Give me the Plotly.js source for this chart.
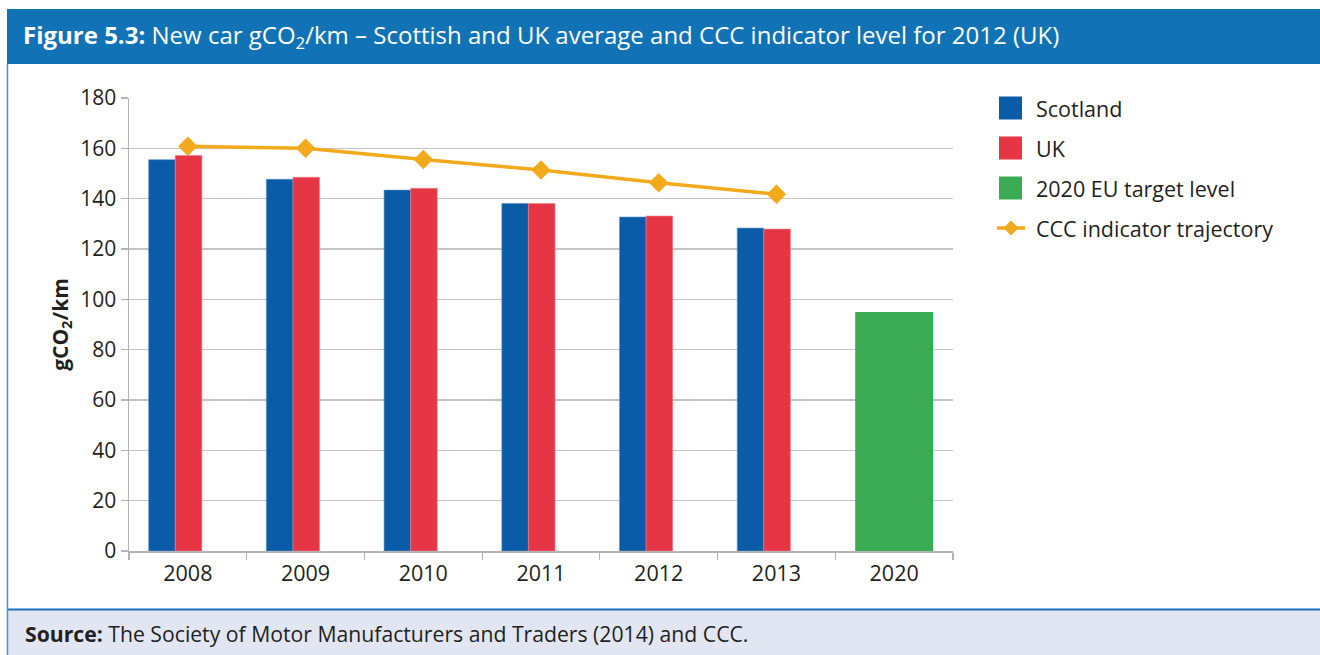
<!DOCTYPE html>
<html>
<head>
<meta charset="utf-8">
<script src="https://cdn.plot.ly/plotly-3.0.1.min.js"></script>
<style>
  html, body { margin: 0; padding: 0; background: #ffffff; }
  #chart { width: 1320px; height: 655px; }
</style>
</head>
<body>
<div id="chart"></div>
<script>
// ---- Data ----
const years = ['2008', '2009', '2010', '2011', '2012', '2013', '2020'];
const barYears = ['2008', '2009', '2010', '2011', '2012', '2013'];
const scotland = [155.5, 147.7, 143.4, 138.1, 132.7, 128.3];
const uk = [157.2, 148.5, 144.1, 138.1, 133.1, 127.9];
const targetYears = ['2020'];
const eutarget = [95];
const cccYears = ['2008', '2009', '2010', '2011', '2012', '2013'];
const ccc = [160.8, 160.0, 155.6, 151.4, 146.3, 141.8];
const seriesNames = ['Scotland', 'UK', '2020 EU target level', 'CCC indicator trajectory'];
const yTicks = [0, 20, 40, 60, 80, 100, 120, 140, 160, 180];

const titleText = '<b>Figure 5.3:</b> New car gCO<sub>2</sub>/km \u2013 Scottish and UK average and CCC indicator level for 2012 (UK)';
const sourceText = '<b>Source:</b> The Society of Motor Manufacturers and Traders (2014) and CCC.';
const yTitle = '<b>gCO<sub>2</sub>/km</b>';

// ---- Styling ----
const colors = ['#0B5CA8', '#E63646', '#3CAB56', '#F2A91C'];
const W = 1320, H = 655;
const M = { l: 129, r: 367, t: 98, b: 104 };
const PW = W - M.l - M.r, PH = H - M.t - M.b;
const px = v => (v - M.l) / PW;          // pixel x -> paper x
const py = v => (H - M.b - v) / PH;      // pixel y -> paper y
const textColor = '#231F20';
const font = 'Open Sans, Noto Sans, sans-serif';

const traces = [
  { type: 'bar', name: seriesNames[0], x: barYears, y: scotland,
    marker: { color: colors[0], line: { color: '#5B8FCB', width: 0.6 } },
    width: 0.226, offset: -0.333, showlegend: false, hoverinfo: 'x+y+name' },
  { type: 'bar', name: seriesNames[1], x: barYears, y: uk,
    marker: { color: colors[1], line: { color: '#F07F8A', width: 0.6 } },
    width: 0.226, offset: -0.107, showlegend: false, hoverinfo: 'x+y+name' },
  { type: 'bar', name: seriesNames[2], x: targetYears, y: eutarget,
    marker: { color: colors[2] },
    width: 0.663, offset: -0.331, showlegend: false, hoverinfo: 'x+y+name' },
  { type: 'scatter', mode: 'lines+markers', name: seriesNames[3], x: cccYears, y: ccc,
    line: { color: colors[3], width: 3.5 },
    marker: { symbol: 'diamond', size: 15, color: colors[3] },
    showlegend: false, hoverinfo: 'x+y+name' }
];

// ---- Frame: header band, footer band, left border ----
const shapes = [
  { type: 'rect', xref: 'paper', yref: 'paper', x0: px(7), x1: px(1320), y0: py(64), y1: py(9),
    fillcolor: '#1173B5', line: { width: 0 }, layer: 'below' },
  { type: 'rect', xref: 'paper', yref: 'paper', x0: px(7), x1: px(1320), y0: py(655), y1: py(610),
    fillcolor: '#E2E6F2', line: { width: 0 }, layer: 'below' },
  { type: 'line', xref: 'paper', yref: 'paper', x0: px(7), x1: px(1320), y0: py(609.5), y1: py(609.5),
    line: { color: '#1A72BA', width: 2 } },
  { type: 'line', xref: 'paper', yref: 'paper', x0: px(7.5), x1: px(7.5), y0: py(64), y1: py(655),
    line: { color: '#4A90D0', width: 1.5 } }
];

// ---- Legend (drawn to match the reference's large swatches) ----
const legendY = [108, 148, 188, 228];
const annotations = [];
for (let i = 0; i < 3; i++) {
  shapes.push({ type: 'rect', xref: 'paper', yref: 'paper',
    x0: px(999), x1: px(1022), y0: py(legendY[i] + 11.5), y1: py(legendY[i] - 11.5),
    fillcolor: colors[i], line: { width: 0 } });
}
shapes.push({ type: 'line', xref: 'paper', yref: 'paper',
  x0: px(997), x1: px(1025), y0: py(legendY[3]), y1: py(legendY[3]),
  line: { color: colors[3], width: 3.5 } });
{
  const cx = 1011, cy = legendY[3], r = 7.5;
  const p = (x, y) => px(x) + ',' + py(y);
  shapes.push({ type: 'path', xref: 'paper', yref: 'paper',
    path: 'M' + p(cx, cy - r) + ' L' + p(cx + r, cy) + ' L' + p(cx, cy + r) + ' L' + p(cx - r, cy) + ' Z',
    fillcolor: colors[3], line: { width: 0 } });
}
for (let i = 0; i < 4; i++) {
  annotations.push({ xref: 'paper', yref: 'paper', x: px(1034), y: py(legendY[i]),
    xanchor: 'left', yanchor: 'middle', showarrow: false, text: seriesNames[i],
    font: { family: font, size: 21.5, color: textColor } });
}
annotations.push({ xref: 'paper', yref: 'paper', x: px(23), y: py(633), xanchor: 'left', yanchor: 'middle',
  showarrow: false, text: sourceText, font: { family: font, size: 21.2, color: textColor } });

const layout = {
  width: W, height: H,
  margin: M,
  paper_bgcolor: '#ffffff', plot_bgcolor: '#ffffff',
  font: { family: font, color: textColor, size: 21 },
  barmode: 'overlay',
  showlegend: false,
  title: { text: titleText, xref: 'container', yref: 'container', x: 23 / W, xanchor: 'left',
    y: 1 - 36 / H, yanchor: 'middle', font: { family: font, size: 24, color: '#ffffff' } },
  xaxis: {
    type: 'category', categoryorder: 'array', categoryarray: years,
    range: [-0.5, years.length - 0.5],
    showline: true, linecolor: '#B4B4B4', linewidth: 1.5,
    ticks: 'outside', tickson: 'boundaries', ticklen: 7, tickcolor: '#B4B4B4', tickwidth: 1.2,
    ticklabelstandoff: 3,
    tickfont: { size: 21.5, color: textColor }, showgrid: false, fixedrange: true
  },
  yaxis: {
    range: [0, 180], tickvals: yTicks, ticktext: yTicks.map(String),
    showline: true, linecolor: '#B4B4B4', linewidth: 1.5,
    ticks: 'outside', ticklen: 7, tickcolor: '#B4B4B4', tickwidth: 1.2,
    showgrid: true, gridcolor: '#C4C4C4', gridwidth: 1.5, zeroline: false,
    tickfont: { size: 21, color: textColor },
    title: { text: yTitle, standoff: 6, font: { size: 21, color: textColor } },
    fixedrange: true
  },
  shapes: shapes,
  annotations: annotations
};

Plotly.newPlot('chart', traces, layout, { displayModeBar: false, staticPlot: true });
</script>
</body>
</html>
